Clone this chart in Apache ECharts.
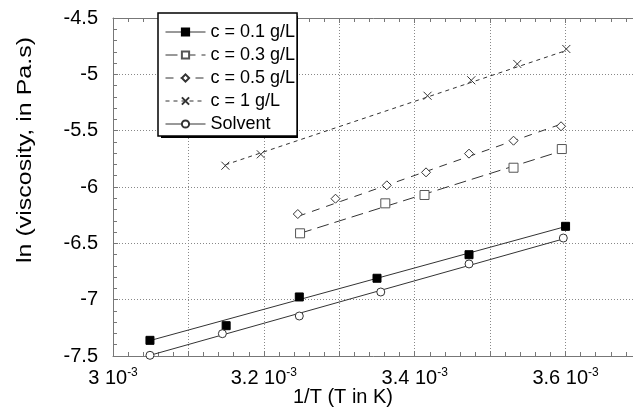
<!DOCTYPE html>
<html>
<head>
<meta charset="utf-8">
<script src="https://cdn.jsdelivr.net/npm/echarts@6/dist/echarts.min.js"></script>
<style>html,body{margin:0;padding:0;background:#fff}#c{width:633px;height:410px}</style>
</head>
<body>
<div id="c"></div>
<script>
// 1/T values (1/K) and ln(viscosity) values
const x01 = [3.049e-3, 3.150e-3, 3.247e-3, 3.350e-3, 3.472e-3, 3.600e-3];
const y01 = [-7.361, -7.231, -6.976, -6.810, -6.601, -6.349];
const x03 = [3.248e-3, 3.361e-3, 3.413e-3, 3.531e-3, 3.595e-3];
const y03 = [-6.411, -6.145, -6.071, -5.829, -5.663];
const x05 = [3.245e-3, 3.295e-3, 3.363e-3, 3.415e-3, 3.472e-3, 3.531e-3, 3.594e-3];
const y05 = [-6.240, -6.104, -5.985, -5.870, -5.704, -5.589, -5.461];
const x1 = [3.149e-3, 3.196e-3, 3.417e-3, 3.475e-3, 3.536e-3, 3.601e-3];
const y1 = [-5.811, -5.710, -5.190, -5.053, -4.908, -4.775];
const xS = [3.049e-3, 3.145e-3, 3.247e-3, 3.355e-3, 3.472e-3, 3.597e-3];
const yS = [-7.494, -7.302, -7.145, -6.932, -6.683, -6.453];

// fitted straight lines (end points)
const fit01X = [3.049e-3, 3.600e-3], fit01Y = [-7.363, -6.351];
const fit03X = [3.248e-3, 3.595e-3], fit03Y = [-6.411, -5.680];
const fit05X = [3.245e-3, 3.594e-3], fit05Y = [-6.261, -5.442];
const fit1X = [3.149e-3, 3.601e-3], fit1Y = [-5.803, -4.788];
const fitSX = [3.049e-3, 3.597e-3], fitSY = [-7.494, -6.461];

const names = ['c = 0.1 g/L', 'c = 0.3 g/L', 'c = 0.5 g/L', 'c = 1 g/L', 'Solvent'];
const xTitle = '1/T (T in K)';
const yTitle = 'ln (viscosity, in Pa.s)';

const FONT = 'Liberation Sans, Arial, Helvetica, sans-serif';
const LINE = '#333';
const zip = (a, b) => a.map((v, i) => [v, b[i]]);

const styles = [
  {symbol: 'rect', size: 8, color: '#000', border: '#000', dash: 'solid'},
  {symbol: 'rect', size: 9, color: '#fff', border: '#555', dash: [12, 6]},
  {symbol: 'diamond', size: 9, color: '#fff', border: '#333', dash: [8, 7]},
  {symbol: 'path://M0 0L10 10M10 0L0 10', size: 8, color: 'rgba(0,0,0,0)', border: '#333', dash: [4, 4]},
  {symbol: 'circle', size: 8, color: '#fff', border: '#333', dash: 'solid'}
];
const pts = [zip(x01, y01), zip(x03, y03), zip(x05, y05), zip(x1, y1), zip(xS, yS)];
const fits = [zip(fit01X, fit01Y), zip(fit03X, fit03Y), zip(fit05X, fit05Y), zip(fit1X, fit1Y), zip(fitSX, fitSY)];

const series = [];
names.forEach((n, i) => {
  const s = styles[i];
  series.push({
    name: n + ' fit', type: 'line', data: fits[i], showSymbol: false, silent: true,
    lineStyle: {color: LINE, width: 1, type: s.dash}, z: 2
  });
});
names.forEach((n, i) => {
  const s = styles[i];
  series.push({
    name: n, type: 'line', data: pts[i], symbol: s.symbol, symbolSize: s.size,
    showSymbol: true,
    lineStyle: {opacity: 0, color: LINE, type: s.dash, width: 1},
    itemStyle: {color: s.color, borderColor: s.border, borderWidth: 1},
    z: 3
  });
});

function xLabel(v) {
  const k = Math.round(v * 1e4);
  if (k % 2 !== 0) return '';
  let t = (k / 10).toFixed(1);
  if (t.endsWith('.0')) t = t.slice(0, -2);
  return '{a|' + t + ' 10}{s|-3}';
}

const chart = echarts.init(document.getElementById('c'), null, {renderer: 'canvas'});
chart.setOption({
  animation: false,
  backgroundColor: '#fff',
  textStyle: {fontFamily: FONT},
  grid: {left: 113, top: 18, width: 528, bottom: 54, containLabel: false, outerBoundsMode: 'none'},
  graphic: [
    {type: 'rect', z: 3.5, silent: true, shape: {x: 161, y: 16, width: 137, height: 122}, style: {fill: '#000'}},
    {type: 'text', z: 5, silent: true, x: 25, y: 150, rotation: Math.PI / 2, scaleX: 1.25,
     style: {text: yTitle, fontSize: 20, fontFamily: FONT, fill: '#000', align: 'center', verticalAlign: 'middle',
             textAlign: 'center', textVerticalAlign: 'middle'}}
  ],
  legend: {
    orient: 'vertical', left: 158, top: 13,
    padding: [10, 2, 3, 7], itemGap: 5, itemWidth: 40, itemHeight: 9,
    backgroundColor: '#fff', borderColor: '#000', borderWidth: 1.5,
    textStyle: {fontSize: 18, color: '#000', fontFamily: FONT},
    data: names.map((n, i) => ({
      name: n,
      lineStyle: {opacity: 1, color: LINE, width: 1, type: styles[i].dash}
    }))
  },
  xAxis: [{
    type: 'value', min: 0.0030, max: 0.0037, interval: 0.0001,
    name: xTitle, nameLocation: 'middle', nameGap: 31, nameMoveOverlap: false,
    nameTextStyle: {fontSize: 20, color: '#000', fontFamily: FONT, padding: [0, 68, 0, 0]},
    axisLine: {lineStyle: {color: '#777', width: 1}},
    axisTick: {inside: true, length: 5, lineStyle: {color: '#777'}},
    minorTick: {show: true, splitNumber: 5, length: 4, lineStyle: {color: '#777'}},
    splitLine: {show: true, lineStyle: {color: '#888', type: [1, 2], width: 1}},
    axisLabel: {
      margin: 11, color: '#000', formatter: xLabel,
      rich: {
        a: {fontSize: 20, color: '#000', fontFamily: FONT},
        s: {fontSize: 12, color: '#000', fontFamily: FONT, padding: [0, 0, 11, 0]}
      }
    }
  }, {
    type: 'value', position: 'top', min: 0.0030, max: 0.0037, interval: 0.0001,
    axisLine: {lineStyle: {color: '#777', width: 1}},
    axisTick: {inside: true, length: 5, lineStyle: {color: '#777'}},
    minorTick: {show: true, splitNumber: 5, length: 4, lineStyle: {color: '#777'}},
    splitLine: {show: false},
    axisLabel: {show: false}
  }],
  yAxis: {
    type: 'value', min: -7.5, max: -4.5, interval: 0.5,
    axisLine: {show: true, lineStyle: {color: '#777', width: 1}},
    axisTick: {show: true, inside: true, length: 5, lineStyle: {color: '#777'}},
    minorTick: {show: true, splitNumber: 5, length: 4, lineStyle: {color: '#777'}},
    splitLine: {show: true, lineStyle: {color: '#888', type: [1, 2], width: 1}},
    axisLabel: {margin: 15, fontSize: 20, color: '#000', fontFamily: FONT, padding: [5, 0, 0, 0]}
  },
  series: series
});
</script>
</body>
</html>
